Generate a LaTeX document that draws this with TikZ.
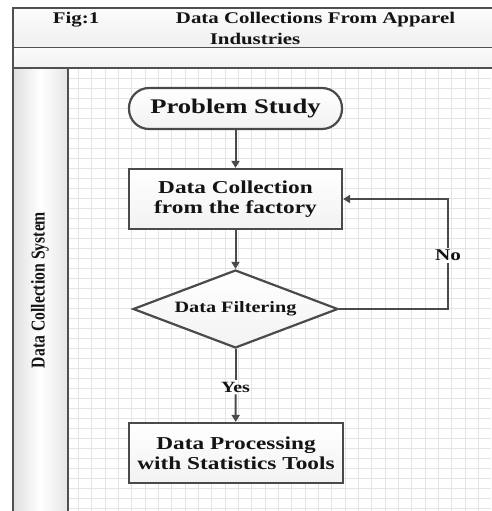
\documentclass[tikz,border=0pt]{standalone}
\usepackage{fontspec}
\setmainfont{Liberation Serif}[FakeStretch=1.28]
\newfontfamily\lanefont{Liberation Serif}
\usetikzlibrary{shapes.geometric,arrows.meta}
\definecolor{framegray}{HTML}{505050}
\definecolor{linegray}{HTML}{4A4A4A}
\definecolor{gridgray}{HTML}{E4E4E4}
\definecolor{txt}{HTML}{141414}
\begin{document}
\begin{tikzpicture}[x=1pt,y=-1pt,
  flowbox/.style={draw=linegray, line width=2.2pt, top color=white, bottom color=gray!10,
    align=center, text=txt, font=\bfseries\fontsize{18.2}{20}\selectfont,
    minimum width=213pt, minimum height=60pt, inner sep=0pt},
  termbox/.style={flowbox, rounded corners=20pt, minimum height=41pt,
    font=\bfseries\fontsize{20.8}{22}\selectfont},
  decbox/.style={draw=linegray, line width=2.2pt, top color=white, bottom color=gray!10,
    diamond, aspect=2.6, minimum width=205pt, minimum height=78pt, inner sep=0pt,
    text=txt, font=\bfseries\fontsize{15.8}{18}\selectfont},
  lbl/.style={text=txt, font=\bfseries\fontsize{16}{18}\selectfont, inner sep=2pt},
  conn/.style={draw=linegray, line width=2pt},
  arr/.style={conn, -{Triangle[length=7pt,width=8pt]}},
  hdr/.style={text=txt, font=\bfseries\fontsize{16.3}{18}\selectfont, inner sep=0pt}]
\useasboundingbox (0,0) rectangle (491,511);
\fill[white] (0,0) rectangle (491,511);
% header bands
\shade[top color=gray!3, bottom color=gray!12] (13,8) rectangle (495,48);
\shade[top color=gray!4, bottom color=gray!10] (13,48) rectangle (495,68);
% lane column
\shade[left color=gray!25, right color=gray!20, middle color=white] (13,68) rectangle (68,515);
% grid
\begin{scope}
\clip (68,68) rectangle (491,511);
\foreach \i in {0,...,32} {\draw[gridgray, line width=0.8pt] (65+13.333*\i,68) -- (65+13.333*\i,511);}
\foreach \j in {1,...,45} {\draw[gridgray, line width=0.8pt] (68,68+10*\j) -- (491,68+10*\j);}
\end{scope}
% frame lines
\draw[framegray, line width=1.5pt] (495,8) -- (13,8) -- (13,515);
\draw[framegray, line width=1pt] (13,48) -- (495,48);
\draw[framegray, line width=1.8pt] (13,68) -- (495,68);
\draw[framegray, line width=1.5pt] (68,68) -- (68,515);
% header text
\node[hdr] (fig) at (76,20) {Fig:1};
\node[hdr] (t1) at (315.5,20) {Data Collections From Apparel};
\node[hdr] (t2) at (255,38.5) {Industries};
% lane label
\node[rotate=90, text=txt, inner sep=0pt] (lane) at (40,290)
  {\scalebox{1}[1.25]{\lanefont\bfseries\fontsize{15.7}{18}\selectfont Data Collection System}};
% flow nodes
\node[termbox] (ps) at (235.5,108.5) {Problem Study};
\node[flowbox] (dc) at (235.5,199) {Data Collection\\from the factory};
\node[decbox] (df) at (235.5,309) {Data Filtering};
\node[flowbox, minimum width=214pt] (dp) at (236,453) {Data Processing\\with Statistics Tools};
\node[lbl, font=\bfseries\fontsize{15.6}{18}\selectfont] (yes) at (235.5,387) {Yes};
\node[lbl, font=\bfseries\fontsize{16.5}{18}\selectfont] (no) at (448,255.5) {No};
% connectors
\draw[arr] (ps) -- (dc);
\draw[arr] (dc) -- (df);
\draw[conn] (df.south) -- (yes);
\draw[arr] (yes) -- (dp);
\draw[conn] (df.east) -| (no);
\draw[arr] (no) |- (dc.east);
\end{tikzpicture}
\end{document}
